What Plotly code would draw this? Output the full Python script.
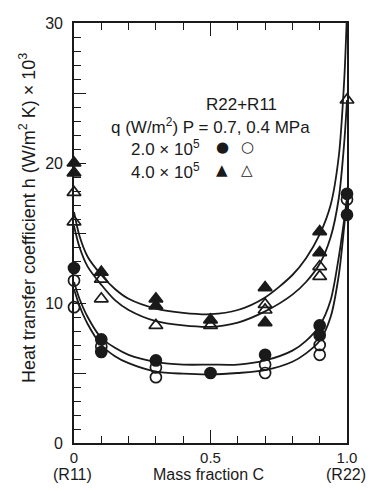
import plotly.graph_objects as go

# ---------------- data ----------------
# Measured points: mass fraction C and heat transfer coefficient h (x10^3 W/m2K)
tri_fill_c = [0, 0, 0.1, 0.3, 0.3, 0.5, 0.7, 0.7, 0.9, 0.9, 1.0, 1.0]
tri_fill_h = [20.0, 19.3, 12.2, 10.3, 9.8, 8.8, 11.1, 8.6, 15.1, 13.6, 30.9, 30.2]

tri_open_c = [0, 0, 0.1, 0.1, 0.3, 0.5, 0.7, 0.7, 0.9, 0.9, 1.0]
tri_open_h = [17.9, 15.8, 11.7, 10.3, 8.4, 8.4, 9.9, 9.5, 12.6, 11.9, 24.5]

cir_fill_c = [0, 0.1, 0.1, 0.3, 0.5, 0.7, 0.9, 0.9, 1.0, 1.0]
cir_fill_h = [12.5, 7.4, 6.5, 5.9, 5.0, 6.3, 8.4, 7.7, 17.8, 16.3]

cir_open_c = [0, 0, 0.1, 0.3, 0.3, 0.7, 0.7, 0.9, 0.9, 1.0]
cir_open_h = [11.6, 9.7, 6.9, 5.4, 4.7, 5.6, 5.0, 7.0, 6.3, 17.4]

# Fitted curves, read at these mass fractions
curve_c = [0, 0.02, 0.05, 0.1, 0.15, 0.2, 0.3, 0.4, 0.5, 0.6, 0.7, 0.8, 0.85, 0.9, 0.94, 0.97, 0.99, 1.0]
curve_tri_fill = [16.5, 14.8, 13.3, 12.0, 11.0, 10.3, 9.6, 9.3, 9.2, 9.5, 10.4, 12.0, 13.2, 14.9, 17.0, 20.5, 26.0, 30.8]
curve_tri_open = [15.5, 14.0, 12.6, 11.3, 10.2, 9.5, 8.7, 8.4, 8.3, 8.6, 9.4, 10.6, 11.5, 12.8, 14.7, 17.5, 21.5, 24.5]
curve_cir_fill = [11.5, 10.3, 9.0, 7.5, 6.8, 6.3, 5.8, 5.6, 5.6, 5.6, 5.9, 6.6, 7.3, 8.4, 10.2, 13.3, 16.0, 17.5]
curve_cir_open = [11.0, 9.8, 8.5, 7.0, 6.2, 5.7, 5.1, 4.95, 4.9, 5.0, 5.2, 5.8, 6.4, 7.3, 9.0, 12.0, 15.5, 17.4]

x_tickvals = [0, 0.5, 1.0]
x_ticktext = ["0", "0.5", "1.0"]
y_tickvals = [0, 5, 10, 15, 20, 25, 30]
y_ticktext = ["0", "", "10", "", "20", "", "30"]

# ---------------- figure ----------------
INK = "#1a1a1a"
FONT = "Liberation Sans, Arial, DejaVu Sans, sans-serif"
W, H = 375, 491
L, R, T, B = 74, 28, 23, 48

fig = go.Figure()

for ys in [curve_tri_fill, curve_tri_open, curve_cir_fill, curve_cir_open]:
    fig.add_trace(go.Scatter(x=curve_c, y=ys, mode="lines",
                             line=dict(color=INK, width=1.8, shape="spline", smoothing=0.8),
                             hoverinfo="skip", cliponaxis=False, showlegend=False))

def pts(cs, hs, symbol, size):
    fig.add_trace(go.Scatter(x=cs, y=hs, mode="markers", cliponaxis=False, showlegend=False,
                             marker=dict(symbol=symbol, size=size, color=INK,
                                         line=dict(color=INK, width=1.7))))

pts(tri_open_c, tri_open_h, "triangle-up-open", 12)
pts(cir_open_c, cir_open_h, "circle-open", 11)
pts(tri_fill_c, tri_fill_h, "triangle-up", 12)
pts(cir_fill_c, cir_fill_h, "circle", 11)

def px(x):
    return (x - L) / (W - L - R)

def py(y):
    return (H - B - y) / (H - T - B)

def note(text, x, y, size=17, xanchor="center", angle=0, family=FONT):
    fig.add_annotation(text=text, x=px(x), y=py(y), xref="paper", yref="paper",
                       showarrow=False, xanchor=xanchor, yanchor="middle",
                       textangle=angle, font=dict(family=family, size=size, color=INK))

note("R22+R11", 241, 105)
note("q (W/m<sup>2</sup>) P = 0.7, 0.4 MPa", 210, 126)
note("2.0 × 10<sup>5</sup>", 129, 148, xanchor="left")
note("4.0 × 10<sup>5</sup>", 129, 171, xanchor="left")
note("●", 222, 147, size=15, family="DejaVu Sans")
note("○", 247, 147, size=15, family="DejaVu Sans")
note("▲", 222, 170, size=15, family="DejaVu Sans")
note("△", 247, 170, size=15, family="DejaVu Sans")

note("(R11)", 72, 474, size=16)
note("Mass fraction C", 208, 474, size=16)
note("(R22)", 346, 474, size=16)
note("Heat transfer coefficient h (W/m<sup>2</sup> K) × 10<sup>3</sup>", 27, 218, size=18, angle=-90)

fig.update_layout(
    width=W, height=H,
    margin=dict(l=L, r=R, t=T, b=B, pad=0),
    paper_bgcolor="white", plot_bgcolor="white",
    font=dict(family=FONT, size=16, color=INK),
    xaxis=dict(range=[0, 1], tickvals=x_tickvals, ticktext=x_ticktext,
               ticks="inside", ticklen=13, tickwidth=1.3, tickcolor=INK,
               minor=dict(dtick=0.1, ticks="inside", ticklen=7, tickwidth=1.3, tickcolor=INK),
               showline=True, linecolor=INK, linewidth=1.6, mirror="ticks",
               showgrid=False, zeroline=False, tickfont=dict(size=15),
               ticklabelstandoff=0),
    yaxis=dict(range=[0, 30], tickvals=y_tickvals, ticktext=y_ticktext,
               ticks="inside", ticklen=12, tickwidth=1.3, tickcolor=INK,
               minor=dict(dtick=1, ticks="inside", ticklen=7, tickwidth=1.3, tickcolor=INK),
               showline=True, linecolor=INK, linewidth=1.6, mirror=True,
               showgrid=False, zeroline=False, tickfont=dict(size=16),
               ticklabelstandoff=6),
)

fig.write_html("out.html")
